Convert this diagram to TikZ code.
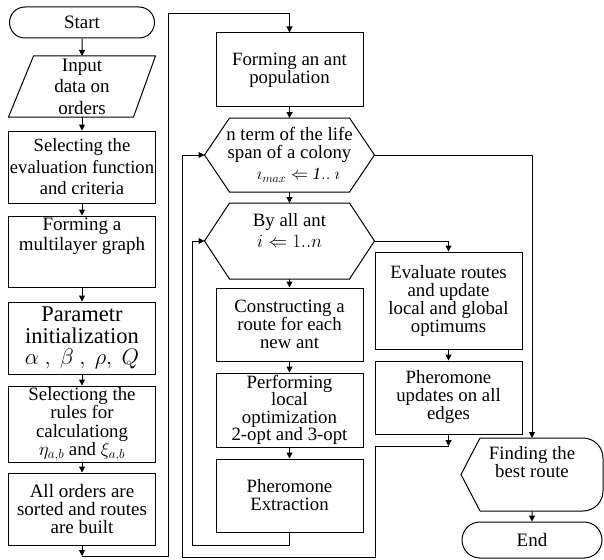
\RequirePackage{fix-cm}
\documentclass[tikz,border=0pt]{standalone}
\usepackage{fontspec}
\setmainfont{Liberation Serif}
\usetikzlibrary{arrows.meta,positioning,shapes.misc}

\tikzset{every picture/.style={line width=1pt}}
\tikzset{
  blk/.style={draw, minimum width=147pt, inner sep=1pt, align=center, font=\fontsize{19}{21.5}\selectfont},
  blkm/.style={blk, font=\fontsize{18.8}{18}\selectfont},
  plain/.style={inner sep=1pt, outer sep=0pt, align=center, font=\fontsize{18.8}{18}\selectfont},
  term/.style={draw, rounded rectangle, inner sep=1pt, font=\fontsize{19}{21.5}\selectfont},
  flow/.style={-{Triangle[length=6pt,width=6pt]}},
}

% outline of a decision hexagon round an empty node
\newcommand\drawhexa[1]{\draw (#1.west) -- ([xshift=25pt]#1.north west) -- ([xshift=-25pt]#1.north east) -- (#1.east) -- ([xshift=-25pt]#1.south east) -- ([xshift=25pt]#1.south west) -- cycle;}
% outline of an input parallelogram
\newcommand\drawpara[1]{\draw ([xshift=25pt]#1.north west) -- (#1.north east) -- ([xshift=-22pt]#1.south east) -- (#1.south west) -- cycle;}

\begin{document}
\begin{tikzpicture}[x=1pt,y=1pt,yscale=-1]
\useasboundingbox (0,0) rectangle (604,559);

%Left column
\node[term, minimum width=147pt, minimum height=31pt] (start) at (82,22.5) {Start};
\node[plain, font=\fontsize{19}{21.5}\selectfont, minimum width=147pt, minimum height=61pt] (input) at (82,86.5) {Input\\data on\\orders};
\drawpara{input}
\node[blk, minimum height=72pt, font=\fontsize{18.6}{21.5}\selectfont] (evalfn) at (82,167) {Selecting the\\evaluation function\\and criteria};
\node[blk, minimum height=71pt] (graph) at (82,251.5) {};
\node[plain, below=1pt of graph.north, font=\fontsize{19}{20}\selectfont] (graphtxt) {Forming a\\multilayer graph};
\node[blk, minimum height=72pt, font=\fontsize{22.5}{21.5}\selectfont] (param) at (82,338) {Parametr\\initialization\\$\alpha\ ,\ \beta\ ,\ \rho,\ Q$};
\node[blk, minimum height=76pt, font=\fontsize{18.8}{18.5}\selectfont] (rules) at (82,424) {Selectiong the\\rules for\\calculationg\\$\eta_{a,b}$ and $\xi_{a,b}$};
\node[blk, minimum height=72pt, font=\fontsize{19}{18}\selectfont] (sorted) at (82,509) {All orders are\\sorted and routes\\are built};

%Middle column
\node[blkm, minimum height=74pt] (ants) at (289.5,70) {Forming an ant\\population};
\node[plain, minimum width=170pt, minimum height=74pt] (life) at (289.5,155) {n term of the life\\span of a colony\\[3pt]\hspace*{18pt}{\fontsize{17}{20}\selectfont$\imath_{max}\Leftarrow\mathit{1}..\ \imath$}};
\drawhexa{life}
\node[plain, minimum width=170pt, minimum height=76pt] (antloop) at (289.5,241) {By all ant\\[3pt]$i\Leftarrow 1..n$\\[4pt]};
\drawhexa{antloop}
\node[blkm, minimum height=73pt] (construct) at (289.5,324.5) {Constructing a\\route for each\\new ant};
\node[blkm, minimum height=74pt, font=\fontsize{18.8}{17.3}\selectfont] (localopt) at (289.5,410) {Performing\\local\\optimization\\2-opt and 3-opt};
\node[blkm, minimum height=73pt] (extract) at (289.5,495.5) {Pheromone\\Extraction};

%Right column
\node[blkm, minimum height=97pt] (evaluate) at (448.5,300.5) {Evaluate routes\\and update\\local and global\\optimums};
\node[blkm, minimum height=73pt] (pherupd) at (448.5,397.5) {Pheromone\\updates on all\\edges};
\node[plain, minimum width=142pt, minimum height=73pt] (best) at (532,474.5) {};
\node[plain, below=7pt of best.north] (besttxt) {Finding the\\best route};
%Shape: display
\draw[rounded corners=20pt] ([xshift=19pt]best.north west) -- (best.north east) -- (best.south east) -- ([xshift=19pt]best.south west);
\draw ([xshift=19pt]best.south west) -- (best.west) -- ([xshift=19pt]best.north west);
\node[term, minimum width=142pt, minimum height=36pt] (finish) at (532,540) {End};

%Turning points
\coordinate (sortout) at (82,556);
\coordinate (topturn) at (168,14);
\coordinate (extout) at (192,545);
\coordinate (updout) at (448.5,446);
\coordinate (backturn) at (375,557);
\coordinate (leftturn) at (182,557);

%Connectors
\draw[flow] (start) -- (input);
\draw[flow] (input) -- (evalfn);
\draw[flow] (evalfn) -- (graph);
\draw[flow] (graph) -- (param);
\draw[flow] (param) -- (rules);
\draw[flow] (rules) -- (sorted);
\draw[flow] (sorted) -- (sortout);
\draw[flow] (sortout) -| (topturn) -| (ants.north);
\draw[flow] (ants) -- (life);
\draw[flow] (life) -- (antloop);
\draw[flow] (antloop) -- (construct);
\draw[flow] (construct) -- (localopt);
\draw[flow] (localopt) -- (extract);
\draw[flow] (extract.south) |- (extout) |- (antloop.west);
\draw[flow] (antloop.east) -| (evaluate.north);
\draw[flow] (evaluate) -- (pherupd);
\draw[flow] (pherupd) -- (updout);
\draw[flow] (updout) -| (backturn) -- (leftturn) |- (life.west);
\draw[flow] (life.east) -| (best.north);
\draw[flow] (best) -- (finish);

\end{tikzpicture}
\end{document}
